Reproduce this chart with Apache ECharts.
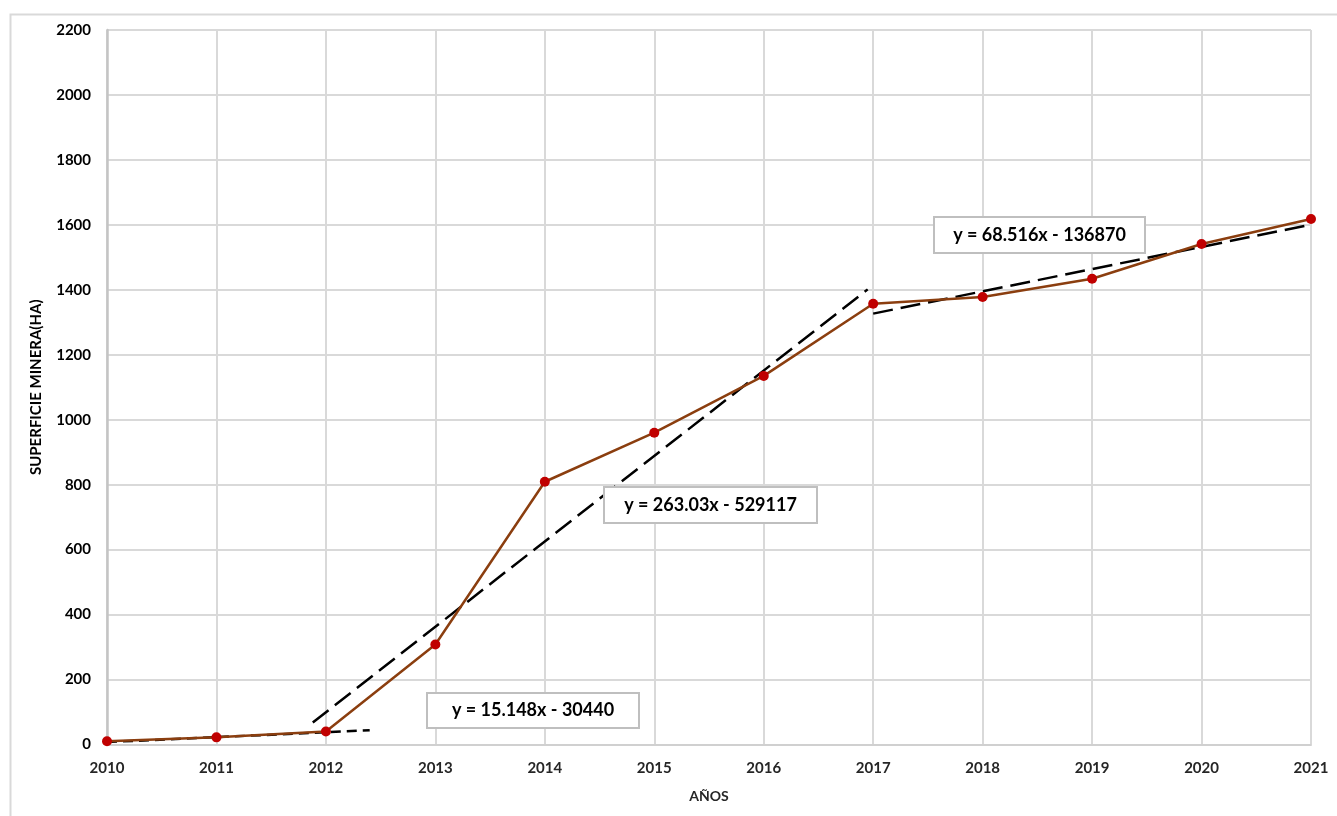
<!DOCTYPE html>
<html>
<head>
<meta charset="utf-8">
<script src="https://cdn.jsdelivr.net/npm/echarts@6/dist/echarts.min.js"></script>
<style>
  html, body { margin: 0; padding: 0; background: #fff; }
  #chart { width: 1337px; height: 816px; }
</style>
</head>
<body>
<div id="chart"></div>
<script>
// Mined surface (ha) per year
const years = [2010, 2011, 2012, 2013, 2014, 2015, 2016, 2017, 2018, 2019, 2020, 2021];
const surface = [10, 22, 40, 308, 809, 960, 1135, 1357, 1378, 1434, 1541, 1618];

// Linear trends: slope, intercept, x-range and displayed equation
const trendSlopes = [15.148, 263.03, 68.516];
const trendIntercepts = [-30440, -529117, -136870];
const trendFrom = [2010, 2011.88, 2017];
const trendTo = [2012.4, 2016.95, 2021];
const trendLabels = ['y = 15.148x - 30440', 'y = 263.03x - 529117', 'y = 68.516x - 136870'];
const trendDash = [[10, 6], [20, 8], [20, 8]];

const FONT = 'Lato, "Open Sans", sans-serif';

const chart = echarts.init(document.getElementById('chart'));

const trendSeries = trendSlopes.map((m, i) => ({
  type: 'line',
  data: [trendFrom[i], trendTo[i]].map(x => [x, m * x + trendIntercepts[i]]),
  symbol: 'none',
  silent: true,
  z: 3,
  lineStyle: { color: '#000', width: 2.5, type: trendDash[i] }
}));

// Equation boxes (left, top, width, height)
const boxes = [[427, 693, 212, 35], [604, 487, 213, 36], [934, 217, 211, 36]];
const boxGraphics = [];
boxes.forEach((b, i) => {
  boxGraphics.push({
    type: 'rect', z: 100, zlevel: 1, silent: true,
    shape: { x: b[0], y: b[1], width: b[2], height: b[3] },
    style: { fill: '#fff', stroke: '#bfbfbf', lineWidth: 2 }
  });
  boxGraphics.push({
    type: 'text', z: 101, zlevel: 1, silent: true,
    x: b[0] + b[2] / 2, y: b[1] + b[3] / 2,
    style: { text: trendLabels[i], font: 'bold 18px ' + FONT, fill: '#000',
             align: 'center', verticalAlign: 'middle' }
  });
});

chart.setOption({
  animation: false,
  backgroundColor: '#fff',
  grid: { left: 107, top: 30, width: 1204, height: 714.5, containLabel: false },
  xAxis: {
    type: 'value', min: 2010, max: 2021, interval: 1,
    name: 'AÑOS', nameLocation: 'middle', nameGap: 45,
    nameTextStyle: { fontFamily: FONT, fontWeight: 'bold', fontSize: 14, color: '#262626' },
    axisLine: { show: true, lineStyle: { color: '#d0d0d0', width: 2 } },
    axisTick: { show: false },
    axisLabel: { formatter: v => String(v), fontFamily: FONT, fontWeight: 'bold',
                 fontSize: 15, color: '#262626', margin: 16 },
    splitLine: { show: true, lineStyle: { color: '#d9d9d9', width: 2 } }
  },
  yAxis: {
    type: 'value', min: 0, max: 2200, interval: 200,
    name: 'SUPERFICIE MINERA(HA)', nameLocation: 'middle', nameGap: 63, nameRotate: 90,
    nameTextStyle: { fontFamily: FONT, fontWeight: 'bold', fontSize: 15, color: '#000' },
    axisLine: { show: true, lineStyle: { color: '#c4c4c4', width: 2.5 } },
    axisTick: { show: false },
    axisLabel: { formatter: v => String(v), fontFamily: FONT, fontWeight: 'bold',
                 fontSize: 15, color: '#000', margin: 16 },
    splitLine: { show: true, lineStyle: { color: '#d9d9d9', width: 2 } }
  },
  series: [
    {
      type: 'line',
      data: years.map((y, i) => [y, surface[i]]),
      symbol: 'circle', symbolSize: 10,
      z: 4,
      lineStyle: { color: '#8B3E0F', width: 2.5 },
      itemStyle: { color: '#C00000', borderWidth: 0 }
    },
    ...trendSeries
  ],
  graphic: [
    { type: 'rect', left: 8, top: 12, z: -10, silent: true,
      shape: { x: 0, y: 0, width: 1340, height: 820 },
      style: { fill: 'none', stroke: '#d9d9d9', lineWidth: 2 } },
    ...boxGraphics
  ]
});
</script>
</body>
</html>
